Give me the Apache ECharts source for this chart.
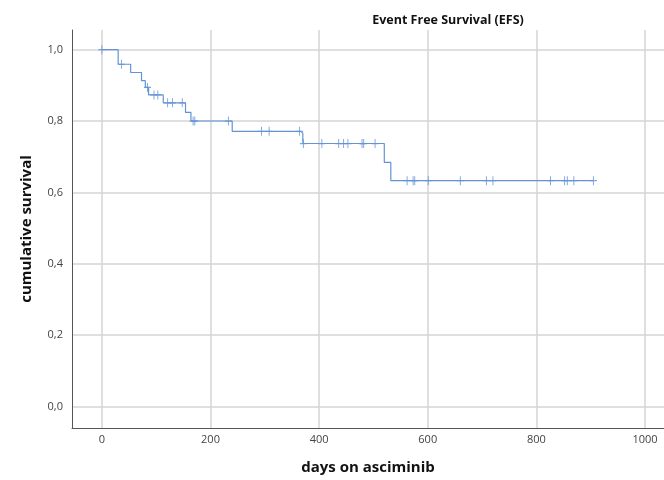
<!DOCTYPE html>
<html>
<head>
<meta charset="utf-8">
<script src="https://cdn.jsdelivr.net/npm/echarts@6/dist/echarts.min.js"></script>
<style>html,body{margin:0;padding:0;background:#fff}#c{width:664px;height:480px}</style>
</head>
<body>
<div id="c"></div>
<script>
// Kaplan-Meier step points: day of each event and cumulative survival after it
var stepDays = [0, 30, 53, 73, 80, 86, 113, 154, 164, 240, 366, 370, 520, 532, 905];
var stepSurv = [1.0, 0.959, 0.936, 0.913, 0.894, 0.873, 0.851, 0.824, 0.800, 0.771, 0.766, 0.737, 0.684, 0.633, 0.633];
// censored observations (days)
var censorDays = [0, 36, 84, 96, 103, 121, 130, 148, 168, 171, 233, 294, 308, 364, 371, 405, 436, 445, 453, 479, 482, 503, 562, 573, 576, 601, 660, 708, 720, 826, 852, 857, 869, 905];
// axis ticks
var xTicks = [0, 200, 400, 600, 800, 1000];
var yTicks = [0, 0.2, 0.4, 0.6, 0.8, 1.0];

function survAt(t) {
  var s = stepSurv[0];
  for (var i = 0; i < stepDays.length; i++) { if (stepDays[i] <= t) s = stepSurv[i]; }
  return s;
}
var lineData = stepDays.map(function (d, i) { return [d, stepSurv[i]]; });
var censorData = censorDays.map(function (d) { return [d, survAt(d)]; });

var blue = '#6393d6';
var chart = echarts.init(document.getElementById('c'), null, {renderer: 'canvas'});
chart.setOption({
  animation: false,
  backgroundColor: '#fff',
  title: {
    text: 'Event Free Survival (EFS)',
    left: 443, top: 9, textAlign: 'center',
    textStyle: {fontFamily: 'Open Sans', fontWeight: 'bold', fontSize: 12.5, color: '#111'}
  },
  grid: {left: 72, right: 0, top: 30, bottom: 48, containLabel: false},
  xAxis: {
    type: 'value', min: -55, max: 1035,
    name: 'days on asciminib', nameLocation: 'middle', nameGap: 32,
    nameTextStyle: {fontFamily: 'Open Sans', fontWeight: 'bold', fontSize: 15, color: '#111'},
    axisLine: {show: true, onZero: false, lineStyle: {color: '#555', width: 1}},
    axisTick: {show: false, customValues: xTicks},
    axisLabel: {customValues: xTicks, color: '#444', fontSize: 11, fontFamily: 'Open Sans', margin: 6,
      formatter: function (v) { return String(v); }},
    splitLine: {show: true, lineStyle: {color: '#d4d4d4', width: 1.5}}
  },
  yAxis: {
    type: 'value', min: -0.06, max: 1.055,
    name: 'cumulative survival', nameLocation: 'middle', nameGap: 38, nameRotate: 90,
    nameTextStyle: {fontFamily: 'Open Sans', fontWeight: 'bold', fontSize: 15, color: '#111'},
    axisLine: {show: true, onZero: false, lineStyle: {color: '#555', width: 1}},
    axisTick: {show: false, customValues: yTicks},
    axisLabel: {customValues: yTicks, color: '#444', fontSize: 11, fontFamily: 'Open Sans', margin: 9,
      formatter: function (v) { return v.toFixed(1).replace('.', ','); }},
    splitLine: {show: true, lineStyle: {color: '#d4d4d4', width: 1.5}}
  },
  series: [
    {
      type: 'line', data: lineData, step: 'end', showSymbol: false,
      lineStyle: {color: blue, width: 1.2}, z: 3
    },
    {
      type: 'scatter', data: censorData,
      symbol: 'path://M4.3,0H5.7V4.3H10V5.7H5.7V10H4.3V5.7H0V4.3H4.3Z',
      symbolSize: [7, 9], itemStyle: {color: blue}, z: 4
    }
  ]
});
</script>
</body>
</html>
